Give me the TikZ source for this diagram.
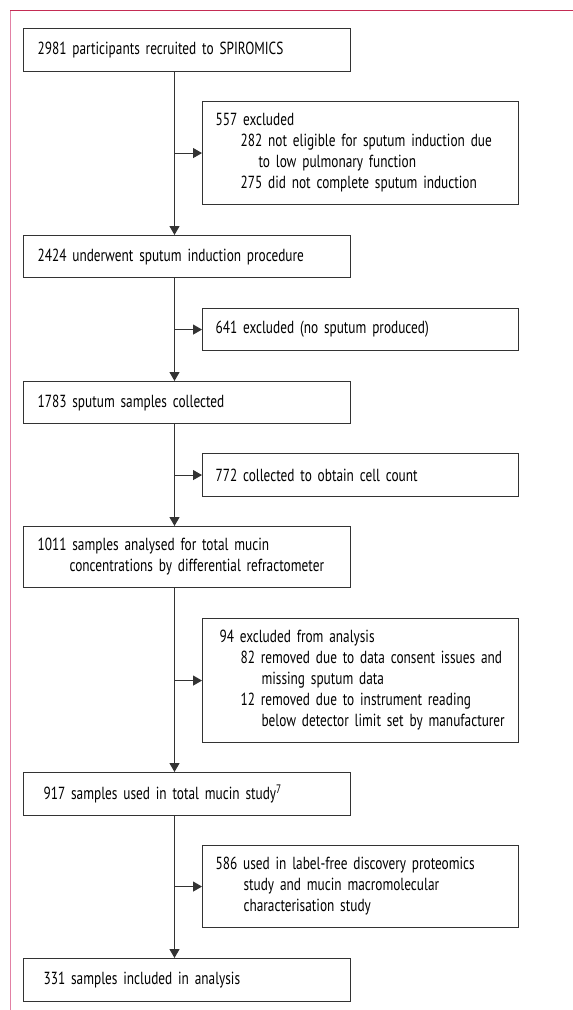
\documentclass[tikz,border=0pt]{standalone}
\usepackage{fontspec}
\setmainfont{PT Sans}[FakeStretch=0.76, WordSpace={0.55,0.3,0.2}]
\usepackage{xcolor}
\colorlet{colLine}{black!80}
\definecolor{colFrameTop}{RGB}{196,44,84}
\definecolor{colFrameLeft}{RGB}{226,128,164}
\usetikzlibrary{arrows.meta, positioning}

\tikzset{
  flowbox/.style={draw=colLine, line width=1.1pt, rectangle, inner xsep=14pt, inner ysep=0pt,
    align=left, anchor=north west, font=\fontsize{17.5}{21}\selectfont},
  mainbox/.style={flowbox, text width=299pt, minimum width=327pt},
  sidebox/.style={flowbox, inner xsep=13pt, text width=290pt, minimum width=316pt},
  flow/.style={colLine, line width=1.1pt, -{Triangle[length=9pt, width=10pt]}},
}

\begin{document}
\begin{tikzpicture}[x=1pt, y=-1pt]
  \useasboundingbox (0,0) rectangle (573,1010);
  % frame
  \draw[colFrameLeft, line width=1.2pt] (10.5,10) -- (10.5,1010);
  \draw[colFrameTop, line width=1.2pt] (10,10.5) -- (573,10.5);

  % main column
  \node[mainbox, minimum height=43pt] (recruit) at (23,28) {2981 participants recruited to SPIROMICS};
  \node[mainbox, minimum height=42pt] (induce) at (23,235) {2424 underwent sputum induction procedure};
  \node[mainbox, minimum height=42pt] (collect) at (23,381) {1783 sputum samples collected};
  \node[mainbox, minimum height=61pt] (analyse) at (23,526) {1011 samples analysed for total mucin\\
    \hspace*{32pt}concentrations by differential refractometer};
  \node[mainbox, minimum height=43pt] (mucin) at (23,772) {\hspace*{6pt}917 samples used in total mucin study\textsuperscript{7}};
  \node[mainbox, minimum height=43pt] (final) at (23,958) {\hspace*{6pt}331 samples included in analysis};

  % exclusions
  \node[sidebox, minimum height=103pt] (excl1) at (202,101) {557 excluded\\
    \hspace*{25pt}282 not eligible for sputum induction due\\
    \hspace*{43pt}to low pulmonary function\\
    \hspace*{25pt}275 did not complete sputum induction};
  \node[sidebox, minimum height=42pt] (excl2) at (202,308) {641 excluded (no sputum produced)};
  \node[sidebox, minimum height=43pt] (excl3) at (202,453) {772 collected to obtain cell count};
  \node[sidebox, minimum height=124pt] (excl4) at (202,618) {\hspace*{4pt}94 excluded from analysis\\
    \hspace*{25pt}82 removed due to data consent issues and\\
    \hspace*{46pt}missing sputum data\\
    \hspace*{25pt}12 removed due to instrument reading\\
    \hspace*{46pt}below detector limit set by manufacturer};
  \node[sidebox, minimum height=82pt] (excl5) at (202,845) {586 used in label-free discovery proteomics\\
    \hspace*{28pt}study and mucin macromolecular\\
    \hspace*{28pt}characterisation study};

  % connectors
  \foreach \a/\b/\c in {recruit/induce/excl1, induce/collect/excl2, collect/analyse/excl3,
                        analyse/mucin/excl4, mucin/final/excl5} {
    \draw[flow] (\a.south -| 174.5,0) -- (\b.north -| 174.5,0);
    \draw[flow] (\c.west -| 174.5,0) -- (\c.west);
  }
\end{tikzpicture}
\end{document}
